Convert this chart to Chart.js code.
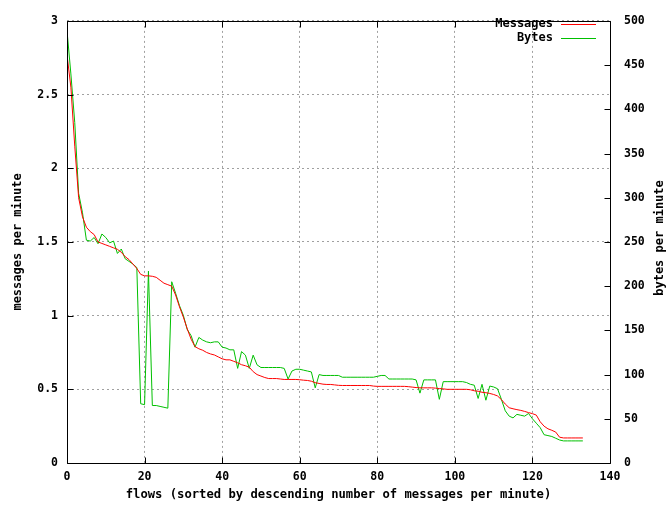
<!DOCTYPE html>
<html>
<head>
<meta charset="utf-8">
<script src="https://cdn.jsdelivr.net/npm/chart.js@4"></script>
<style>body{margin:0;background:#fff}</style>
</head>
<body>
<canvas id="myChart" width="668" height="507"></canvas>
<script>
// messages per minute, one value per flow (flow 0..133)
const messages = [
  2.77, 2.55, 2.15, 1.80, 1.67, 1.60, 1.57, 1.55, 1.50, 1.49,
  1.48, 1.47, 1.46, 1.45, 1.43, 1.40, 1.38, 1.35, 1.32, 1.28,
  1.27, 1.27, 1.267, 1.26, 1.24, 1.22, 1.21, 1.20, 1.14, 1.06,
  0.99, 0.91, 0.84, 0.79, 0.775, 0.765, 0.75, 0.74, 0.733, 0.72,
  0.707, 0.70, 0.70, 0.69, 0.68, 0.667, 0.66, 0.65, 0.62, 0.60,
  0.59, 0.58, 0.573, 0.573, 0.573, 0.57, 0.567, 0.567, 0.567, 0.567,
  0.565, 0.562, 0.56, 0.555, 0.545, 0.54, 0.535, 0.533, 0.533, 0.53,
  0.527, 0.526, 0.526, 0.526, 0.526, 0.526, 0.526, 0.526, 0.526, 0.522,
  0.52, 0.52, 0.52, 0.52, 0.52, 0.52, 0.52, 0.52, 0.518, 0.515,
  0.512, 0.51, 0.51, 0.51, 0.51, 0.508, 0.505, 0.503, 0.50, 0.50,
  0.50, 0.50, 0.50, 0.50, 0.497, 0.49, 0.487, 0.48, 0.477, 0.472,
  0.465, 0.455, 0.43, 0.40, 0.375, 0.368, 0.362, 0.357, 0.35, 0.342,
  0.335, 0.325, 0.28, 0.25, 0.232, 0.222, 0.21, 0.175, 0.17, 0.17,
  0.17, 0.17, 0.17, 0.17
]
// bytes per minute, same flows
const bytes = [
  489, 440, 385, 305, 283, 252, 251, 255, 248, 259,
  255, 249, 251, 237, 242, 231, 228, 225, 221, 67,
  66, 217, 65, 65, 64, 63, 62, 205, 192, 178,
  167, 151, 144, 131, 142, 139, 137, 136, 137, 137,
  131, 130, 128, 128, 107, 126, 122, 107, 122, 111,
  108, 108, 108, 108, 108, 108, 107, 95, 104, 106,
  106, 105, 104, 103, 85, 100, 99, 99, 99, 99,
  99, 97, 97, 97, 97, 97, 97, 97, 97, 97,
  98, 99, 99, 95, 95, 95, 95, 95, 95, 95,
  94, 79, 94, 94, 94, 94, 72, 92, 92, 92,
  92, 92, 92, 91, 89, 88, 73, 89, 71, 87,
  86, 84, 72, 59, 53, 51, 55, 54, 53, 56,
  50, 45, 40, 32, 31, 30, 28, 26, 25, 25,
  25, 25, 25, 25
]
const seriesNames = ['Messages', 'Bytes']
const xTitle = 'flows (sorted by descending number of messages per minute)'
const yTitle = 'messages per minute'
const y2Title = 'bytes per minute'

Chart.defaults.font.family = "'DejaVu Sans Mono', monospace"
Chart.defaults.font.weight = 'bold'
Chart.defaults.font.size = 11.5
Chart.defaults.color = '#000'

const toPoints = (arr) => arr.map((v, i) => ({x: i, y: v}))

// border box, inward tick marks, key and right-hand label like gnuplot
const frame = {
  id: 'frame',
  afterDraw(chart) {
    const ctx = chart.ctx
    const a = chart.chartArea
    const sx = chart.scales.x, sy = chart.scales.y, sy2 = chart.scales.y2
    const L = Math.round(a.left) + 0.5, R = Math.round(a.right) + 0.5
    const T = Math.round(a.top) + 0.5, B = Math.round(a.bottom) + 0.5
    ctx.save()
    ctx.strokeStyle = '#000'
    ctx.lineWidth = 1
    ctx.beginPath()
    ctx.rect(L, T, R - L, B - T)
    sx.ticks.forEach(t => {
      const px = Math.round(sx.getPixelForValue(t.value)) + 0.5
      ctx.moveTo(px, B); ctx.lineTo(px, B - 6)
      ctx.moveTo(px, T); ctx.lineTo(px, T + 6)
    })
    sy.ticks.forEach(t => {
      const py = Math.round(sy.getPixelForValue(t.value)) + 0.5
      ctx.moveTo(L, py); ctx.lineTo(L + 6, py)
    })
    sy2.ticks.forEach(t => {
      const py = Math.round(sy2.getPixelForValue(t.value)) + 0.5
      ctx.moveTo(R, py); ctx.lineTo(R - 6, py)
    })
    ctx.stroke()

    ctx.font = "bold 12px 'DejaVu Sans Mono', monospace"
    ctx.fillStyle = '#000'
    ctx.textBaseline = 'middle'
    chart.data.datasets.forEach((ds, i) => {
      const y = 24 + i * 14
      ctx.textAlign = 'right'
      ctx.fillText(ds.label, 553, y)
      ctx.strokeStyle = ds.borderColor
      ctx.beginPath()
      ctx.moveTo(561, y + 0.5); ctx.lineTo(596, y + 0.5)
      ctx.stroke()
    })

    ctx.translate(660, 238)
    ctx.rotate(-Math.PI / 2)
    ctx.textAlign = 'center'
    ctx.fillText(y2Title, 0, 0)
    ctx.restore()
  }
}

const ctx = document.getElementById('myChart')
const chart = new Chart(ctx, {
  type: 'line',
  data: {
    datasets: [{
      label: seriesNames[0],
      data: toPoints(messages),
      yAxisID: 'y',
      borderColor: '#ff0000',
      borderWidth: 1,
      pointRadius: 0,
      tension: 0
    }, {
      label: seriesNames[1],
      data: toPoints(bytes),
      yAxisID: 'y2',
      borderColor: '#00c000',
      borderWidth: 1,
      pointRadius: 0,
      tension: 0
    }]
  },
  options: {
    responsive: false,
    animation: false,
    layout: { padding: { top: 13, left: 0, right: 0, bottom: 0 } },
    plugins: { legend: { display: false }, tooltip: { enabled: false } },
    scales: {
      x: {
        type: 'linear', min: 0, max: 140,
        ticks: { stepSize: 20, padding: 7, maxRotation: 0 },
        grid: { color: '#a0a0a0', drawTicks: false },
        border: { display: false, dash: [2, 3] },
        title: { display: true, text: xTitle, font: { size: 12.2 }, padding: { top: 0, bottom: 5 } },
        afterFit: (s) => { s.height = 44 }
      },
      y: {
        position: 'left', min: 0, max: 3,
        ticks: { stepSize: 0.5, padding: 9, callback: (v) => String(v) },
        grid: { color: '#a0a0a0', drawTicks: false },
        border: { display: false, dash: [2, 3] },
        title: { display: true, text: yTitle, font: { size: 12 }, padding: { top: 11, bottom: 0 } },
        afterFit: (s) => { s.width = 67 }
      },
      y2: {
        position: 'right', min: 0, max: 500,
        ticks: { stepSize: 50, padding: 14 },
        grid: { display: false, drawTicks: false },
        border: { display: false },
        afterFit: (s) => { s.width = 58 }
      }
    }
  },
  plugins: [frame]
})
</script>
</body>
</html>
